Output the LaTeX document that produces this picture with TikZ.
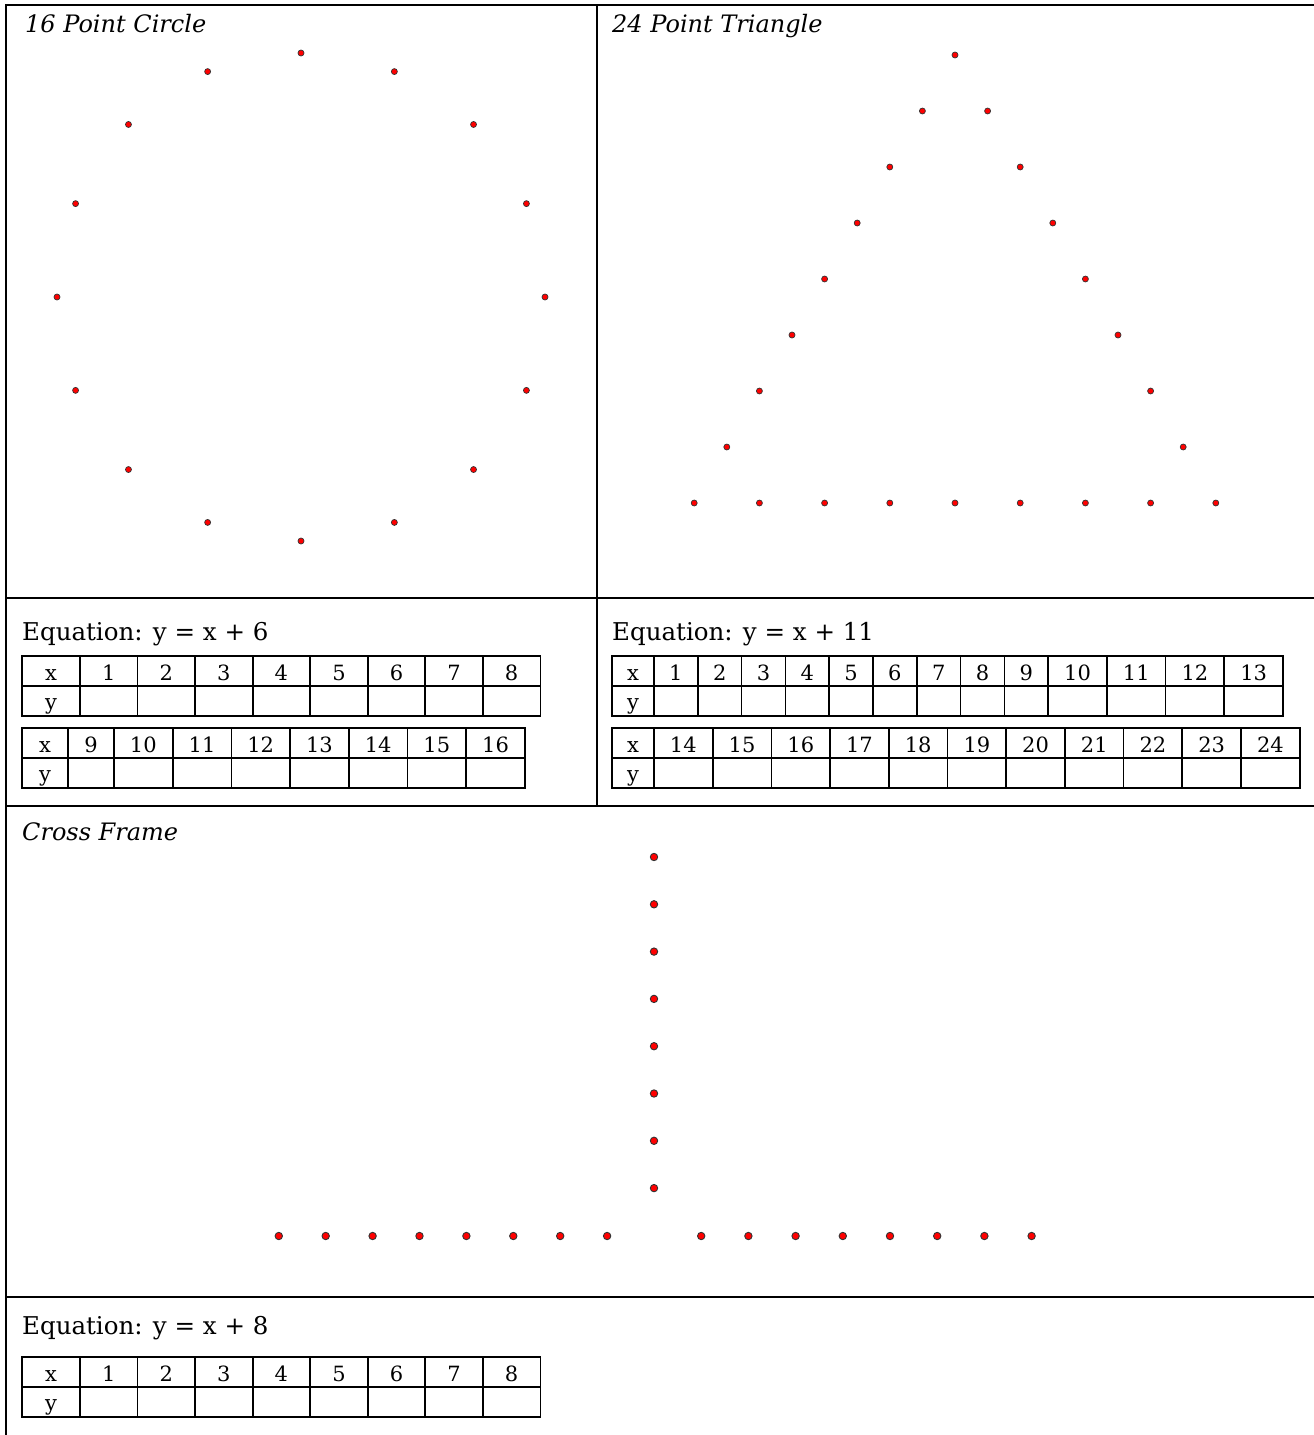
\documentclass[tikz,border=0pt]{standalone}
\usepackage{fontspec}
\setmainfont{DejaVu Serif}
\usetikzlibrary{positioning}

% x/y label column of a value table: #1 name, #2 left, #3 top, #4 width
\newcommand{\headcell}[4]{%
  \draw[tbl] (#2,#3) rectangle ++(#4,60);
  \draw[tbl] (#2,#3+30) -- ++(#4,0);
  \node[cell] (#1-x) at ({#2+#4/2},#3+24) {x};
  \node[cell] (#1-y) at ({#2+#4/2},#3+53) {y};}
% run of numbered cells: #1 name, #2 left, #3 top, #4 cell width, #5 first, #6 last
\newcommand{\cellrun}[6]{%
  \foreach \n [count=\k from 0] in {#5,...,#6}{
    \draw[tbl] ({#2+\k*#4},#3) rectangle ++(#4,60);
    \draw[tbl] ({#2+\k*#4},#3+30) -- ++(#4,0);
    \node[cell] (#1-\n) at ({#2+(\k+0.5)*#4},#3+24) {\n};
  }}

\begin{document}
\begin{tikzpicture}[x=1pt,y=-1pt,
  frame/.style={line width=2.2pt,black},
  tbl/.style={line width=1.7pt,black},
  cell/.style={anchor=base,inner sep=0pt,font=\fontsize{21}{25}\selectfont},
  title/.style={anchor=base west,inner sep=0pt,font=\fontsize{24}{28}\selectfont\itshape},
  eqn/.style={anchor=base west,inner sep=0pt,font=\fontsize{24.5}{28}\selectfont},
  dot/.style={fill=red,draw=black!80,line width=0.7pt},
  bigdot/.style={fill=red,draw=black!80,line width=0.9pt}
]
  \useasboundingbox (0,0) rectangle (1314,1435);

  % frame
  \draw[frame] (6,1435) -- (6,5) -- (1314,5);
  \draw[frame] (597,5) -- (597,806);
  \draw[frame] (6,598) -- (1314,598);
  \draw[frame] (6,806) -- (1314,806);
  \draw[frame] (6,1297) -- (1314,1297);

  % 16 point circle
  \node[title] (circT) at (25,32) {16 Point Circle};
  \foreach \k in {0,...,15}
    \filldraw[dot] ({301+244*cos(90-22.5*\k)},{297-244*sin(90-22.5*\k)}) circle (3pt);

  % 24 point triangle
  \node[title] (triT) at (612,32) {24 Point Triangle};
  \filldraw[dot] (955,55) circle (3pt);
  \foreach \i in {1,...,7}{
    \filldraw[dot] ({955-32.6*\i},{55+56*\i}) circle (3pt);
    \filldraw[dot] ({955+32.6*\i},{55+56*\i}) circle (3pt);
  }
  \foreach \j in {0,...,8}
    \filldraw[dot] ({694.2+65.2*\j},503) circle (3pt);

  % tables for the circle
  \node[eqn] (circE) at (22,640) {Equation: y = x + 6};
  \headcell{ca}{22}{656}{58}
  \cellrun{ca}{80}{656}{57.55}{1}{8}
  \headcell{cb}{22}{728}{46}
  \cellrun{cb}{68}{728}{46}{9}{9}
  \cellrun{cb}{114}{728}{58.7}{10}{16}

  % tables for the triangle
  \node[eqn] (triE) at (612,640) {Equation: y = x + 11};
  \headcell{ta}{612}{656}{42}
  \cellrun{ta}{654}{656}{43.8}{1}{9}
  \cellrun{ta}{1048.2}{656}{58.7}{10}{13}
  \headcell{tb}{612}{728}{42}
  \cellrun{tb}{654}{728}{58.7}{14}{24}

  % cross frame
  \node[title] (crossT) at (22,840) {Cross Frame};
  \foreach \k in {0,...,7}
    \filldraw[bigdot] (654,{857+47.3*\k}) circle (3.7pt);
  \foreach \k in {1,...,8}{
    \filldraw[bigdot] ({654-46.9*\k},1236) circle (3.7pt);
    \filldraw[bigdot] ({654+47.2*\k},1236) circle (3.7pt);
  }

  % table for the cross
  \node[eqn] (crossE) at (22,1334) {Equation: y = x + 8};
  \headcell{xa}{22}{1357}{58}
  \cellrun{xa}{80}{1357}{57.55}{1}{8}
\end{tikzpicture}
\end{document}
